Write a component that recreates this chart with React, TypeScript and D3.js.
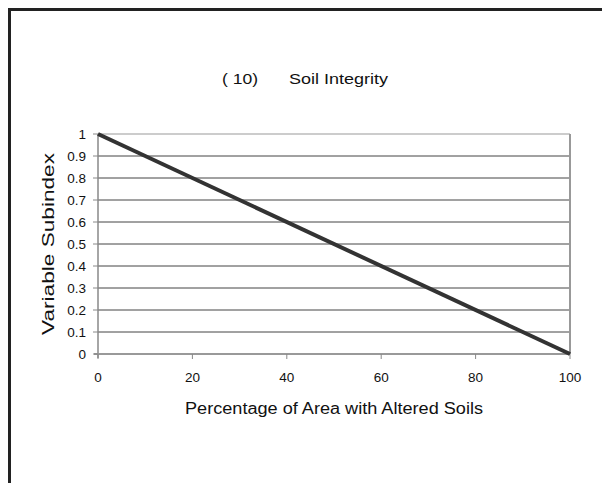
import React from "react";
import * as d3 from "d3";

const xTicks = [0, 20, 40, 60, 80, 100];
const yTicks = [0, 0.1, 0.2, 0.3, 0.4, 0.5, 0.6, 0.7, 0.8, 0.9, 1];
const xValues = [0, 100];
const yValues = [1, 0];
const titleNum = "( 10)";
const titleText = "Soil Integrity";
const xLabel = "Percentage of Area with Altered Soils";
const yLabel = "Variable Subindex";

export default function App() {
  const W = 602, H = 483;
  const left = 98, right = 570, top = 134, bottom = 354;
  const x = d3.scaleLinear().domain([0, 100]).range([left, right]);
  const y = d3.scaleLinear().domain([0, 1]).range([bottom, top]);
  const data = xValues.map((v, i) => [v, yValues[i]] as [number, number]);
  const line = d3.line<[number, number]>().x(d => x(d[0])).y(d => y(d[1]));
  const font = "Liberation Sans, Arial, sans-serif";
  return (
    <svg width={W} height={H} style={{ position: "absolute", left: 0, top: 0, background: "#fff" }} fontFamily={font}>
      <rect x={0} y={0} width={W} height={H} fill="#fff" />
      <rect x={9.5} y={9.5} width={800} height={800} fill="none" stroke="#222" strokeWidth={3} />
      <text x={222} y={84} fontSize={15.5} textLength={36} lengthAdjust="spacingAndGlyphs" fill="#111">{titleNum}</text>
      <text x={289} y={84} fontSize={15.5} textLength={99} lengthAdjust="spacingAndGlyphs" fill="#111">{titleText}</text>
      {yTicks.filter(t => t > 0).map(t => (
        <line key={"g" + t} x1={left} x2={right} y1={y(t)} y2={y(t)} stroke={t === 1 ? "#999" : "#444"} strokeWidth={1} />
      ))}
      <line x1={right} x2={right} y1={top} y2={bottom} stroke="#999" strokeWidth={2} />
      <line x1={left} x2={left} y1={top} y2={bottom + 4} stroke="#888" strokeWidth={1.5} />
      <line x1={left - 4} x2={right} y1={bottom} y2={bottom} stroke="#999" strokeWidth={2} />
      {yTicks.map(t => (
        <g key={"y" + t}>
          <line x1={left - 5} x2={left} y1={y(t)} y2={y(t)} stroke="#888" />
          <text x={left - 12} y={y(t) + 5} fontSize={13.5} textAnchor="end" fill="#111">{d3.format("")(t)}</text>
        </g>
      ))}
      {xTicks.map(t => (
        <g key={"x" + t}>
          <line x1={x(t)} x2={x(t)} y1={bottom} y2={bottom + 5} stroke="#888" />
          <text x={x(t)} y={bottom + 28} fontSize={13.5} textAnchor="middle" fill="#111">{t}</text>
        </g>
      ))}
      <path d={line(data) || ""} fill="none" stroke="#333" strokeWidth={4} />
      <text x={185} y={414} fontSize={16} textLength={298} lengthAdjust="spacingAndGlyphs" fill="#111">{xLabel}</text>
      <text transform={`translate(54,335) rotate(-90)`} fontSize={16} textLength={182} lengthAdjust="spacingAndGlyphs" fill="#111">{yLabel}</text>
    </svg>
  );
}
